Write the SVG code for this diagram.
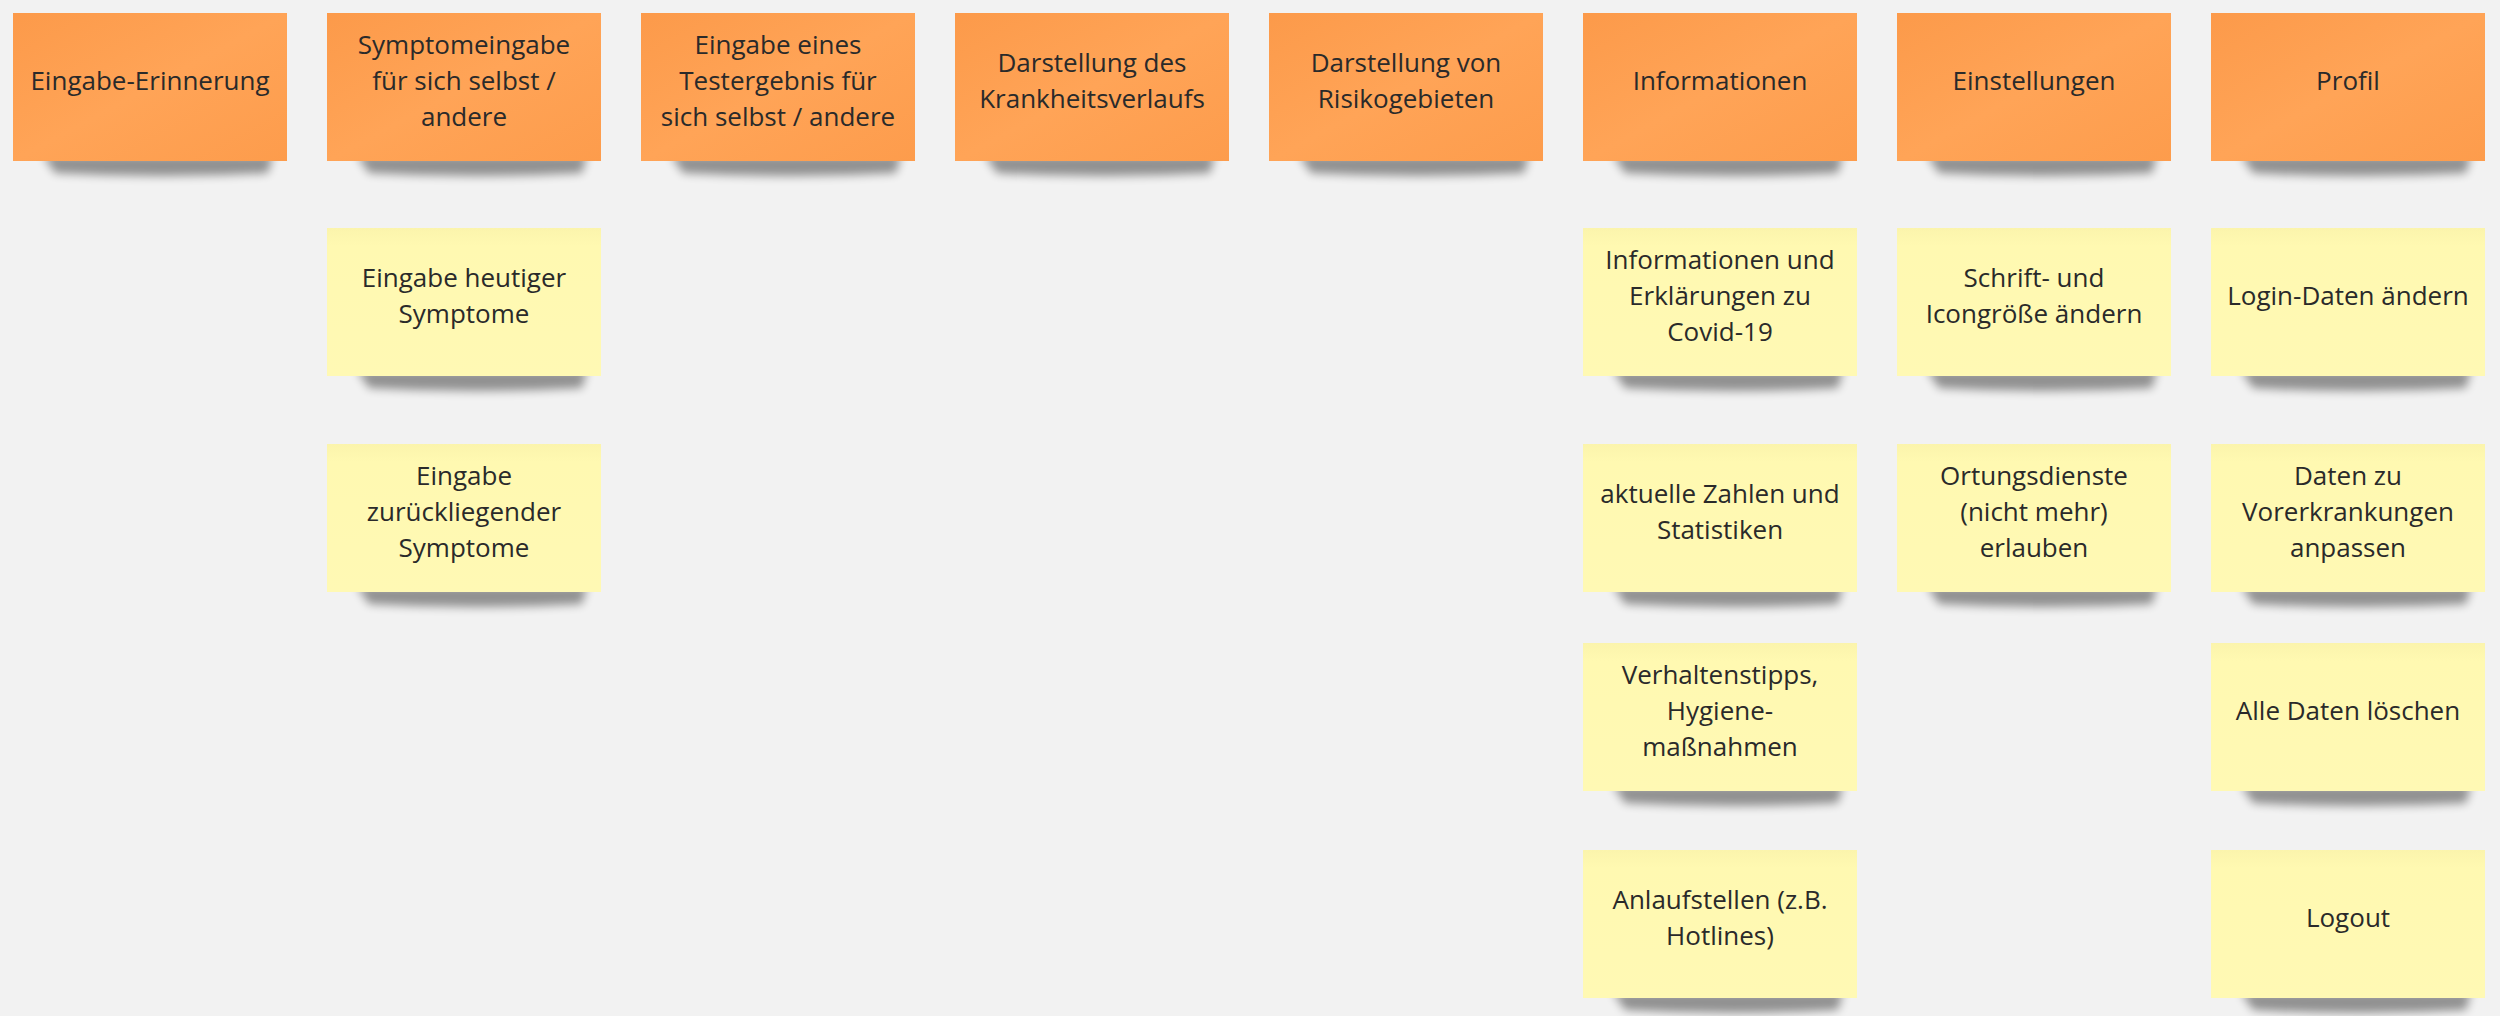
<svg xmlns="http://www.w3.org/2000/svg" width="2500" height="1016" viewBox="0 0 2500 1016">
<defs>
<filter id="sh" x="-20%" y="-100%" width="140%" height="300%"><feGaussianBlur stdDeviation="5"/></filter>
<linearGradient id="og" x1="0" y1="0" x2="1" y2="1"><stop offset="0" stop-color="#FC9A4A"/><stop offset="0.5" stop-color="#FFA457"/><stop offset="1" stop-color="#FD9C4C"/></linearGradient>
<linearGradient id="yg" x1="0" y1="0" x2="0" y2="1"><stop offset="0" stop-color="#FBF4AC"/><stop offset="0.12" stop-color="#FFF9B1"/><stop offset="1" stop-color="#FFF9B4"/></linearGradient>
</defs>
<style>
text{font-family:"Open Sans","Noto Sans","Liberation Sans",sans-serif;font-size:26px;fill:#2a2a2a;text-anchor:middle}
.shadow{fill:#000;opacity:0.4;filter:url(#sh)}
.o{fill:url(#og)}
.y{fill:url(#yg)}
</style>
<rect width="2500" height="1016" fill="#F2F2F2"/>
<g id="connectors"/>

<g id="n-eingabe-erinnerung" transform="translate(13,13)"><path class="shadow" d="M30,142 H260 L255,160 Q150,166 42,160 Z"/><rect class="o" width="274" height="148"/><text x="137" y="77">Eingabe-Erinnerung</text></g>

<g id="n-symptomeingabe" transform="translate(327,13)"><path class="shadow" d="M30,142 H260 L255,160 Q150,166 42,160 Z"/><rect class="o" width="274" height="148"/><text x="137" y="41">Symptomeingabe</text><text x="137" y="77">für sich selbst /</text><text x="137" y="113">andere</text></g>
<g id="n-heutige-symptome" transform="translate(327,228)"><path class="shadow" d="M30,142 H260 L255,160 Q150,166 42,160 Z"/><rect class="y" width="274" height="148"/><text x="137" y="59">Eingabe heutiger</text><text x="137" y="95">Symptome</text></g>
<g id="n-zurueckliegende-symptome" transform="translate(327,444)"><path class="shadow" d="M30,142 H260 L255,160 Q150,166 42,160 Z"/><rect class="y" width="274" height="148"/><text x="137" y="41">Eingabe</text><text x="137" y="77">zurückliegender</text><text x="137" y="113">Symptome</text></g>

<g id="n-testergebnis" transform="translate(641,13)"><path class="shadow" d="M30,142 H260 L255,160 Q150,166 42,160 Z"/><rect class="o" width="274" height="148"/><text x="137" y="41">Eingabe eines</text><text x="137" y="77">Testergebnis für</text><text x="137" y="113">sich selbst / andere</text></g>

<g id="n-krankheitsverlauf" transform="translate(955,13)"><path class="shadow" d="M30,142 H260 L255,160 Q150,166 42,160 Z"/><rect class="o" width="274" height="148"/><text x="137" y="59">Darstellung des</text><text x="137" y="95">Krankheitsverlaufs</text></g>

<g id="n-risikogebiete" transform="translate(1269,13)"><path class="shadow" d="M30,142 H260 L255,160 Q150,166 42,160 Z"/><rect class="o" width="274" height="148"/><text x="137" y="59">Darstellung von</text><text x="137" y="95">Risikogebieten</text></g>

<g id="n-informationen" transform="translate(1583,13)"><path class="shadow" d="M30,142 H260 L255,160 Q150,166 42,160 Z"/><rect class="o" width="274" height="148"/><text x="137" y="77">Informationen</text></g>
<g id="n-info-covid" transform="translate(1583,228)"><path class="shadow" d="M30,142 H260 L255,160 Q150,166 42,160 Z"/><rect class="y" width="274" height="148"/><text x="137" y="41">Informationen und</text><text x="137" y="77">Erklärungen zu</text><text x="137" y="113">Covid-19</text></g>
<g id="n-zahlen" transform="translate(1583,444)"><path class="shadow" d="M30,142 H260 L255,160 Q150,166 42,160 Z"/><rect class="y" width="274" height="148"/><text x="137" y="59">aktuelle Zahlen und</text><text x="137" y="95">Statistiken</text></g>
<g id="n-verhaltenstipps" transform="translate(1583,643)"><path class="shadow" d="M30,142 H260 L255,160 Q150,166 42,160 Z"/><rect class="y" width="274" height="148"/><text x="137" y="41">Verhaltenstipps,</text><text x="137" y="77">Hygiene-</text><text x="137" y="113">maßnahmen</text></g>
<g id="n-anlaufstellen" transform="translate(1583,850)"><path class="shadow" d="M30,142 H260 L255,160 Q150,166 42,160 Z"/><rect class="y" width="274" height="148"/><text x="137" y="59">Anlaufstellen (z.B.</text><text x="137" y="95">Hotlines)</text></g>

<g id="n-einstellungen" transform="translate(1897,13)"><path class="shadow" d="M30,142 H260 L255,160 Q150,166 42,160 Z"/><rect class="o" width="274" height="148"/><text x="137" y="77">Einstellungen</text></g>
<g id="n-schriftgroesse" transform="translate(1897,228)"><path class="shadow" d="M30,142 H260 L255,160 Q150,166 42,160 Z"/><rect class="y" width="274" height="148"/><text x="137" y="59">Schrift- und</text><text x="137" y="95">Icongröße ändern</text></g>
<g id="n-ortungsdienste" transform="translate(1897,444)"><path class="shadow" d="M30,142 H260 L255,160 Q150,166 42,160 Z"/><rect class="y" width="274" height="148"/><text x="137" y="41">Ortungsdienste</text><text x="137" y="77">(nicht mehr)</text><text x="137" y="113">erlauben</text></g>

<g id="n-profil" transform="translate(2211,13)"><path class="shadow" d="M30,142 H260 L255,160 Q150,166 42,160 Z"/><rect class="o" width="274" height="148"/><text x="137" y="77">Profil</text></g>
<g id="n-login-daten" transform="translate(2211,228)"><path class="shadow" d="M30,142 H260 L255,160 Q150,166 42,160 Z"/><rect class="y" width="274" height="148"/><text x="137" y="77">Login-Daten ändern</text></g>
<g id="n-vorerkrankungen" transform="translate(2211,444)"><path class="shadow" d="M30,142 H260 L255,160 Q150,166 42,160 Z"/><rect class="y" width="274" height="148"/><text x="137" y="41">Daten zu</text><text x="137" y="77">Vorerkrankungen</text><text x="137" y="113">anpassen</text></g>
<g id="n-daten-loeschen" transform="translate(2211,643)"><path class="shadow" d="M30,142 H260 L255,160 Q150,166 42,160 Z"/><rect class="y" width="274" height="148"/><text x="137" y="77">Alle Daten löschen</text></g>
<g id="n-logout" transform="translate(2211,850)"><path class="shadow" d="M30,142 H260 L255,160 Q150,166 42,160 Z"/><rect class="y" width="274" height="148"/><text x="137" y="77">Logout</text></g>
</svg>
